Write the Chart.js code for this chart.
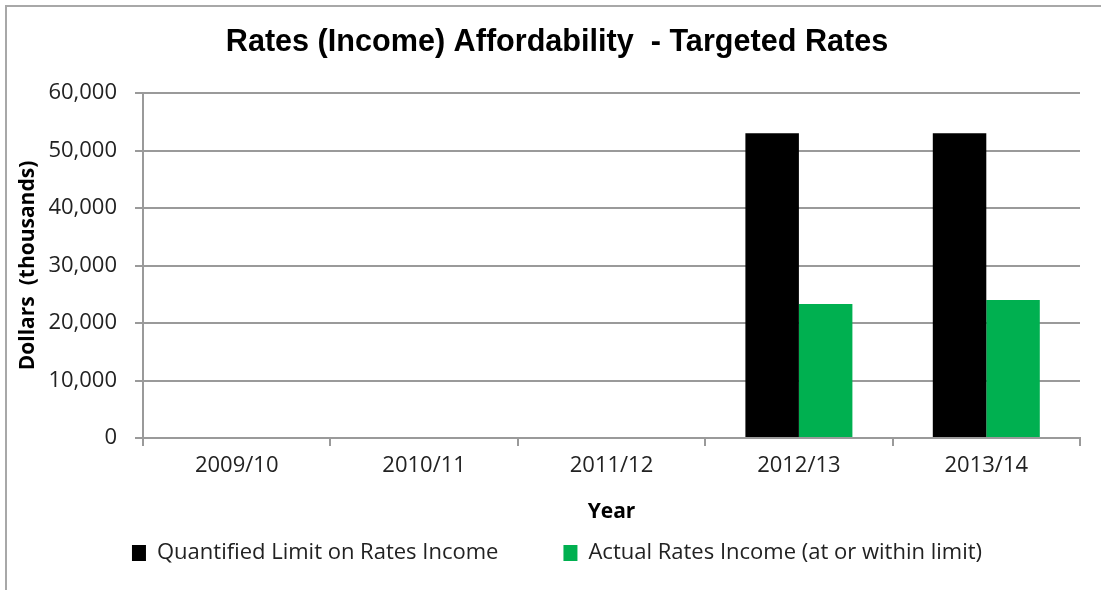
<!DOCTYPE html>
<html>
<head>
<meta charset="utf-8">
<script src="https://cdn.jsdelivr.net/npm/chart.js@4"></script>
<style>
  html, body { margin: 0; padding: 0; background: #ffffff; }
  #wrap { width: 1101px; height: 590px; position: relative; }
</style>
</head>
<body>
<div id="wrap"><canvas id="c" width="1101" height="590"></canvas></div>
<script>
const categories = ['2009/10', '2010/11', '2011/12', '2012/13', '2013/14'];
const limitValues = [null, null, null, 53000, 53000];
const actualValues = [null, null, null, 23300, 24000];
const seriesNames = ['Quantified Limit on Rates Income', 'Actual Rates Income (at or within limit)'];
const yTicks = [0, 10000, 20000, 30000, 40000, 50000, 60000];

const frame = {
  id: 'frame',
  beforeDraw(chart) {
    const ctx = chart.ctx;
    ctx.save();
    ctx.fillStyle = '#ffffff';
    ctx.fillRect(0, 0, chart.width, chart.height);
    ctx.strokeStyle = '#a8a8a8';
    ctx.lineWidth = 2;
    ctx.beginPath();
    ctx.moveTo(6, chart.height);
    ctx.lineTo(6, 6);
    ctx.lineTo(chart.width, 6);
    ctx.stroke();
    ctx.restore();
  }
};

const tickFont = { family: "'Open Sans', sans-serif", size: 22 };
const gridColor = '#9a9a9a';

new Chart(document.getElementById('c'), {
  type: 'bar',
  data: {
    labels: categories,
    datasets: [
      { label: seriesNames[0], data: limitValues, backgroundColor: '#000000', borderWidth: 0 },
      { label: seriesNames[1], data: actualValues, backgroundColor: '#00b050', borderWidth: 0 }
    ]
  },
  options: {
    responsive: false,
    animation: false,
    layout: { padding: { left: 34, right: 21, top: 0, bottom: 16 } },
    datasets: { bar: { categoryPercentage: 0.571, barPercentage: 1.0 } },
    plugins: {
      title: {
        display: true,
        text: 'Rates (Income) Affordability  - Targeted Rates',
        color: '#000000',
        font: { family: "'Liberation Sans', Arial, sans-serif", size: 30.6, weight: 'bold' },
        padding: { top: 24.6, bottom: 31.7 }
      },
      legend: {
        display: true,
        position: 'bottom',
        labels: {
          color: '#222222',
          font: tickFont,
          boxWidth: 14,
          boxHeight: 16,
          padding: 65
        }
      },
      tooltip: { enabled: false }
    },
    scales: {
      x: {
        afterFit(scale) { scale.height = 39; },
        grid: { display: true, drawOnChartArea: false, drawTicks: true, tickLength: 8, color: gridColor, lineWidth: 2, offset: true },
        border: { display: true, color: gridColor, width: 2 },
        ticks: { color: '#222222', font: tickFont, padding: 7, maxRotation: 0 },
        title: {
          display: true, text: 'Year', color: '#000000',
          font: { family: "'Open Sans', sans-serif", size: 21, weight: 'bold' },
          padding: { top: 0, bottom: -47.6 }
        }
      },
      y: {
        min: 0,
        max: 60000,
        afterFit(scale) { scale.width = 109; },
        afterBuildTicks(scale) { scale.ticks = yTicks.map(v => ({ value: v })); },
        grid: { color: gridColor, lineWidth: 2, tickLength: 8, drawTicks: true },
        border: { display: true, color: gridColor, width: 2 },
        ticks: {
          color: '#222222', font: tickFont, padding: 18,
          callback: (v) => Number(v).toLocaleString('en-US')
        },
        title: {
          display: true, text: 'Dollars  (thousands)', color: '#000000',
          font: { family: "'Open Sans', sans-serif", size: 21, weight: 'bold' },
          padding: { top: -18.6, bottom: 0 }
        }
      }
    }
  },
  plugins: [frame]
});
</script>
</body>
</html>
